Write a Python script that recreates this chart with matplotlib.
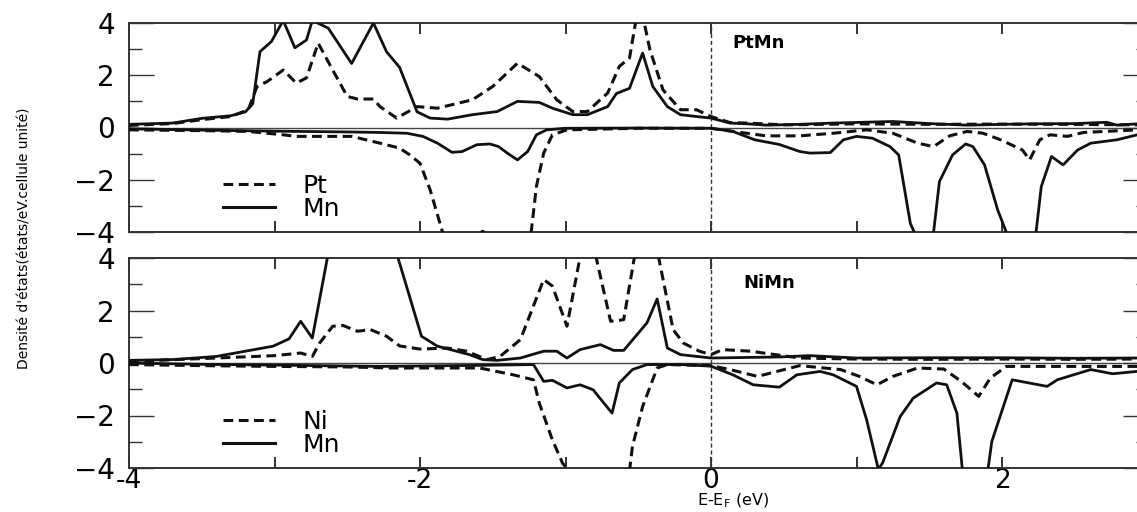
import matplotlib
matplotlib.use("Agg")
import matplotlib.pyplot as plt
from matplotlib.ticker import FixedLocator, FuncFormatter
from matplotlib.lines import Line2D

# --- PtMn (top panel) ---
pt_mn_up_x = [-4.0, -3.7, -3.5, -3.3, -3.2, -3.15, -3.1, -3.02, -2.94, -2.86, -2.78, -2.74,
              -2.63, -2.47, -2.32, -2.23, -2.14, -2.02, -1.93, -1.81, -1.64, -1.47, -1.33,
              -1.18, -1.09, -0.95, -0.85, -0.71, -0.65, -0.56, -0.47, -0.40, -0.30, -0.21,
              -0.10, 0.0, 0.13, 0.25, 0.38, 0.6, 0.84, 1.05, 1.25, 1.5, 1.76, 2.0, 2.21,
              2.5, 2.72, 2.79, 2.93]
pt_mn_up_y = [0.12, 0.17, 0.35, 0.45, 0.6, 0.9, 2.9, 3.3, 4.1, 3.05, 3.35, 4.1,
              3.8, 2.45, 4.0, 2.9, 2.3, 0.6, 0.36, 0.32, 0.49, 0.61, 1.0,
              0.96, 0.74, 0.49, 0.49, 0.8, 1.3, 1.5, 2.85, 1.57, 0.8, 0.49,
              0.42, 0.36, 0.17, 0.14, 0.09, 0.12, 0.17, 0.2, 0.23, 0.15, 0.09, 0.12, 0.14,
              0.15, 0.2, 0.09, 0.14]

pt_up_x = [-4.0, -3.7, -3.5, -3.3, -3.18, -3.12, -3.05, -2.94, -2.85, -2.78, -2.70, -2.60,
           -2.50, -2.43, -2.32, -2.275, -2.16, -2.02, -1.88, -1.64, -1.50, -1.33, -1.18,
           -1.06, -0.95, -0.85, -0.71, -0.63, -0.56, -0.51, -0.47, -0.42, -0.33, -0.21,
           -0.10, 0.0, 0.13, 0.25, 0.5, 1.0, 1.5, 2.0, 2.5, 2.93]
pt_up_y = [0.08, 0.15, 0.3, 0.42, 0.68, 1.57, 1.76, 2.2, 1.7, 1.9, 3.23, 2.2,
           1.19, 1.09, 1.09, 0.8, 0.36, 0.8, 0.74, 1.06, 1.57, 2.46, 1.95,
           1.06, 0.61, 0.61, 1.32, 2.34, 2.66, 4.3, 4.3, 2.98, 1.44, 0.68,
           0.68, 0.42, 0.19, 0.17, 0.1, 0.14, 0.12, 0.13, 0.12, 0.1]

pt_dn_x = [-4.0, -3.5, -3.18, -2.94, -2.85, -2.47, -2.32, -2.275, -2.14, -2.07, -2.0, -1.93,
           -1.84, -1.65, -1.57, -1.45, -1.24, -1.20, -1.15, -1.09, -0.99, -0.5, 0.0, 0.15,
           0.38, 0.61, 0.84, 1.07, 1.25, 1.42, 1.53, 1.64, 1.76, 1.87, 1.99, 2.14, 2.19,
           2.26, 2.33, 2.45, 2.56, 2.93]
pt_dn_y = [-0.09, -0.12, -0.15, -0.28, -0.34, -0.34, -0.54, -0.6, -0.79, -1.05, -1.37, -2.39,
           -4.1, -4.4, -3.97, -4.4, -4.2, -2.26, -0.98, -0.28, -0.09, -0.03, -0.03, -0.15,
           -0.32, -0.32, -0.22, -0.09, -0.22, -0.6, -0.73, -0.32, -0.15, -0.22, -0.47, -0.86, -1.24,
           -0.47, -0.28, -0.34, -0.19, -0.09]

pt_mn_dn_x = [-4.0, -3.5, -3.0, -2.5, -2.275, -2.09, -1.98, -1.88, -1.78, -1.71, -1.61, -1.52,
              -1.46, -1.40, -1.33, -1.26, -1.20, -1.13, -1.0, -0.5, 0.0, 0.15, 0.30, 0.47,
              0.61, 0.68, 0.82, 0.91, 1.0, 1.11, 1.23, 1.29, 1.37, 1.46, 1.53, 1.57, 1.66,
              1.75, 1.80, 1.88, 1.97, 2.05, 2.14, 2.23, 2.27, 2.34, 2.42, 2.52, 2.61, 2.79, 2.93]
pt_mn_dn_y = [-0.05, -0.1, -0.14, -0.17, -0.19, -0.22, -0.34, -0.6, -0.95, -0.92, -0.66, -0.63,
              -0.73, -0.98, -1.24, -0.92, -0.28, -0.09, -0.03, -0.02, -0.03, -0.15, -0.47, -0.65,
              -0.92, -0.98, -0.96, -0.47, -0.34, -0.41, -0.73, -1.05, -3.67, -4.8, -4.0, -2.07, -1.05,
              -0.63, -0.73, -1.43, -3.15, -4.3, -4.8, -4.2, -2.26, -1.11, -1.43, -0.86, -0.6, -0.47, -0.28]

# --- NiMn (bottom panel) ---
ni_mn_up_x = [-4.0, -3.7, -3.4, -3.2, -3.01, -2.9, -2.82, -2.74, -2.63, -2.5, -2.3, -2.14,
              -1.99, -1.88, -1.75, -1.66, -1.57, -1.47, -1.31, -1.15, -1.06, -0.99, -0.90,
              -0.76, -0.67, -0.60, -0.44, -0.37, -0.30, -0.21, 0.0, 0.47, 0.68, 1.0, 1.5,
              2.0, 2.5, 2.93]
ni_mn_up_y = [0.1, 0.13, 0.25, 0.45, 0.64, 0.92, 1.59, 0.95, 4.2, 6.0, 6.5, 3.8,
              1.02, 0.64, 0.45, 0.32, 0.13, 0.1, 0.19, 0.45, 0.45, 0.19, 0.51,
              0.7, 0.48, 0.48, 1.53, 2.44, 0.57, 0.32, 0.19, 0.23, 0.28, 0.19, 0.2,
              0.2, 0.18, 0.19]

ni_up_x = [-4.0, -3.4, -3.0, -2.82, -2.74, -2.69, -2.60, -2.53, -2.43, -2.34, -2.23, -2.14,
           -2.0, -1.81, -1.68, -1.54, -1.45, -1.31, -1.15, -1.09, -0.99, -0.85, -0.69,
           -0.60, -0.45, -0.26, -0.19, -0.08, 0.0, 0.08, 0.27, 0.61, 1.0, 1.5, 2.0, 2.5, 2.93]
ni_up_y = [0.06, 0.19, 0.28, 0.38, 0.25, 0.76, 1.4, 1.43, 1.21, 1.27, 1.02, 0.65,
           0.53, 0.57, 0.45, 0.13, 0.25, 0.89, 3.18, 2.93, 1.4, 5.5, 1.59,
           1.65, 6.5, 1.27, 0.76, 0.45, 0.32, 0.51, 0.45, 0.19, 0.15, 0.14, 0.15, 0.14, 0.15]

ni_dn_x = [-4.0, -3.5, -3.0, -2.5, -2.2, -1.8, -1.59, -1.36, -1.22, -1.18, -1.09, -1.02,
           -0.95, -0.75, -0.56, -0.54, -0.47, -0.37, -0.3, 0.0, 0.13, 0.32, 0.61, 0.89,
           1.02, 1.14, 1.25, 1.42, 1.60, 1.72, 1.84, 1.92, 2.03, 2.45, 2.93]
ni_dn_y = [-0.06, -0.1, -0.13, -0.15, -0.19, -0.19, -0.19, -0.45, -0.64, -1.53, -2.93, -3.82,
           -4.3, -5.0, -4.1, -3.18, -1.66, -0.19, -0.06, -0.1, -0.25, -0.51, -0.1, -0.25,
           -0.51, -0.83, -0.51, -0.19, -0.23, -0.7, -1.27, -0.57, -0.13, -0.13, -0.13]

ni_mn_dn_x = [-4.0, -3.5, -3.0, -2.275, -1.6, -1.22, -1.15, -1.09, -0.99, -0.90, -0.81, -0.68,
              -0.63, -0.54, -0.44, -0.2, 0.0, 0.15, 0.29, 0.47, 0.59, 0.75, 0.84, 1.00,
              1.07, 1.15, 1.18, 1.30, 1.39, 1.55, 1.62, 1.69, 1.73, 1.82, 1.90, 1.93, 2.07,
              2.31, 2.38, 2.61, 2.76, 2.93]
ni_mn_dn_y = [-0.0, -0.05, -0.08, -0.13, -0.09, -0.06, -0.7, -0.66, -0.95, -0.83, -1.02, -1.91,
              -0.76, -0.25, -0.06, -0.06, -0.12, -0.45, -0.83, -0.92, -0.45, -0.32, -0.45, -0.89,
              -2.17, -4.05, -3.8, -2.04, -1.34, -0.76, -0.83, -1.91, -4.2, -5.0, -4.2, -2.99, -0.64,
              -0.89, -0.64, -0.25, -0.41, -0.32]

panels = [
    dict(title="PtMn", label="Pt",
         dashed=[(pt_up_x, pt_up_y), (pt_dn_x, pt_dn_y)],
         solid=[(pt_mn_up_x, pt_mn_up_y), (pt_mn_dn_x, pt_mn_dn_y)]),
    dict(title="NiMn", label="Ni",
         dashed=[(ni_up_x, ni_up_y), (ni_dn_x, ni_dn_y)],
         solid=[(ni_mn_up_x, ni_mn_up_y), (ni_mn_dn_x, ni_mn_dn_y)]),
]

x_major = [-4, -3, -2, -1, 0, 1, 2, 3]
x_labels_shown = [-4, -2, 0, 2]
y_major = [-4, -2, 0, 2, 4]
y_minor = [-3, -1, 1, 3]

plt.rcParams['font.family'] = ['DejaVu Sans']
fig = plt.figure(figsize=(11.37, 5.12), dpi=100)

W, H = 1137.0, 512.0
left = 129 / W
width = (1147.5 - 129) / W
boxes = [(23, 232), (258, 468)]
title_pos = [(0.592, 0.905), (0.603, 0.882)]

dash = (0, (3.2, 1.8))
ink = '#111111'

for i, (p, (top, bot)) in enumerate(zip(panels, boxes)):
    ax = fig.add_axes([left, 1 - bot / H, width, (bot - top) / H])
    ax.set_xlim(-4, 3)
    ax.set_ylim(-4, 4)

    ax.axhline(0, color='#444444', lw=1.0, zorder=1)
    ax.axvline(0, color='#333333', lw=1.0, ls=(0, (3, 2)), zorder=1)

    for xs, ys in p['dashed']:
        ax.plot(xs, ys, color=ink, lw=2.2, ls=dash, zorder=3)
    for xs, ys in p['solid']:
        ax.plot(xs, ys, color=ink, lw=2.0, ls='-', zorder=3)

    ax.xaxis.set_major_locator(FixedLocator(x_major))
    ax.yaxis.set_major_locator(FixedLocator(y_major))
    ax.yaxis.set_minor_locator(FixedLocator(y_minor))
    ax.tick_params(axis='x', which='major', direction='in', length=8, width=1.4,
                   top=True, bottom=True, colors='#333333', labelsize=19,
                   labelcolor='black', pad=0)
    ax.tick_params(axis='y', which='major', direction='in', length=18, width=1.0,
                   left=True, right=True, colors='#333333', labelsize=20,
                   labelcolor='black', pad=10)
    ax.tick_params(axis='y', which='minor', direction='in', length=9, width=1.0,
                   left=True, right=True, colors='#333333')
    if i == 0:
        ax.tick_params(axis='x', labelbottom=False)
    else:
        ax.xaxis.set_major_formatter(FuncFormatter(
            lambda v, pos: f"{v:g}" if v in x_labels_shown else ""))
    for s in ax.spines.values():
        s.set_color('#333333')
        s.set_linewidth(1.4)

    tx, ty = title_pos[i]
    ax.text(tx, ty, p['title'], transform=ax.transAxes,
            fontsize=13, fontweight='bold', ha='left', va='center')

    handles = [Line2D([], [], color=ink, lw=2.2, ls=dash),
               Line2D([], [], color=ink, lw=2.2, ls='-')]
    ax.legend(handles, [p['label'], 'Mn'], loc='center left',
              bbox_to_anchor=(0.092, 0.165), frameon=False, fontsize=18,
              handlelength=2.1, handletextpad=1.1, labelspacing=-0.05,
              borderpad=0, borderaxespad=0)

fig.text(25 / W, 1 - 238 / H, "Densité d'états(états/eV.cellule unité)",
         rotation=90, ha='center', va='center', fontsize=10,
         family=['Liberation Sans Narrow', 'DejaVu Sans'])
fig.text(733 / W, 2 / H, r"E-E$_\mathregular{F}$ (eV)", ha='center', va='bottom',
         fontsize=11.5)

fig.savefig("out.png", dpi=100)
